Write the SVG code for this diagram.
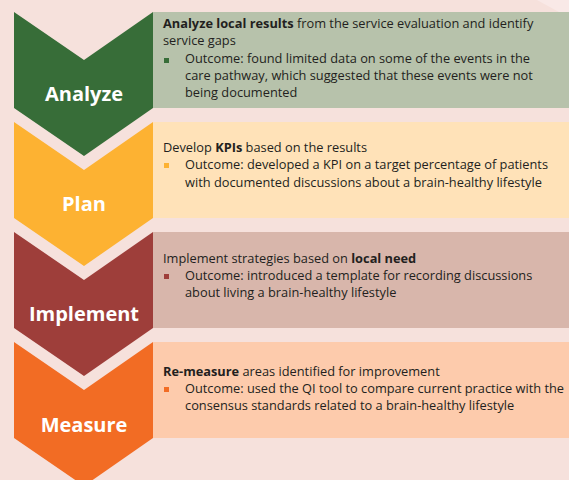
<svg xmlns="http://www.w3.org/2000/svg" width="569" height="480" viewBox="0 0 569 480">
<style>
.bg{fill:#F6E1DC}
.lbl{font-family:"Open Sans","Noto Sans",sans-serif;font-weight:bold;font-size:20px;fill:#FFFFFF;text-anchor:middle}
.t{font-family:"Open Sans","Noto Sans",sans-serif;font-size:12.8px;fill:#231F20}
.b{font-weight:bold}
</style>
<rect class="bg" x="0" y="0" width="569" height="480"/>
<polygon points="537,0 569,0 569,12 559,12" fill="#F9E9E7"/>
<g id="analyze">
<rect x="153" y="12" width="416" height="96" fill="#B7C2AB"/>
<polygon points="14,12 84,60 153,12 153,108 84,156 14,108" fill="#376D38"/>
<text class="lbl" x="84" y="101">Analyze</text>
<text class="t" x="163" y="28"><tspan class="b">Analyze local results</tspan> from the service evaluation and identify</text>
<text class="t" x="163" y="45">service gaps</text>
<rect x="164" y="58" width="5" height="5" fill="#376D38"/>
<text class="t" x="185" y="63">Outcome: found limited data on some of the events in the</text>
<text class="t" x="185" y="80">care pathway, which suggested that these events were not</text>
<text class="t" x="185" y="97">being documented</text>
</g>
<g id="plan">
<rect x="153" y="122" width="416" height="96" fill="#FFE2B8"/>
<polygon points="14,122 84,170 153,122 153,218 84,266 14,218" fill="#FDB232"/>
<text class="lbl" x="84" y="211">Plan</text>
<text class="t" x="163" y="152">Develop <tspan class="b">KPIs</tspan> based on the results</text>
<rect x="164" y="163" width="5" height="5" fill="#FDB232"/>
<text class="t" x="185" y="169">Outcome: developed a KPI on a target percentage of patients</text>
<text class="t" x="185" y="187">with documented discussions about a brain-healthy lifestyle</text>
</g>
<g id="implement">
<rect x="153" y="232" width="416" height="96" fill="#D8B6AB"/>
<polygon points="14,232 84,280 153,232 153,328 84,376 14,328" fill="#9E3E3A"/>
<text class="lbl" x="84" y="321">Implement</text>
<text class="t" x="163" y="263">Implement strategies based on <tspan class="b">local need</tspan></text>
<rect x="164" y="274" width="5" height="5" fill="#9E3E3A"/>
<text class="t" x="185" y="280">Outcome: introduced a template for recording discussions</text>
<text class="t" x="185" y="297">about living a brain-healthy lifestyle</text>
</g>
<g id="measure">
<rect x="153" y="342" width="416" height="96" fill="#FDCBAC"/>
<polygon points="14,342 84,390 153,342 153,438 84,486 14,438" fill="#F26C24"/>
<text class="lbl" x="84" y="432">Measure</text>
<text class="t" x="163" y="376"><tspan class="b">Re-measure</tspan> areas identified for improvement</text>
<rect x="164" y="387" width="5" height="5" fill="#F26C24"/>
<text class="t" x="185" y="393">Outcome: used the QI tool to compare current practice with the</text>
<text class="t" x="185" y="410">consensus standards related to a brain-healthy lifestyle</text>
</g>
</svg>
